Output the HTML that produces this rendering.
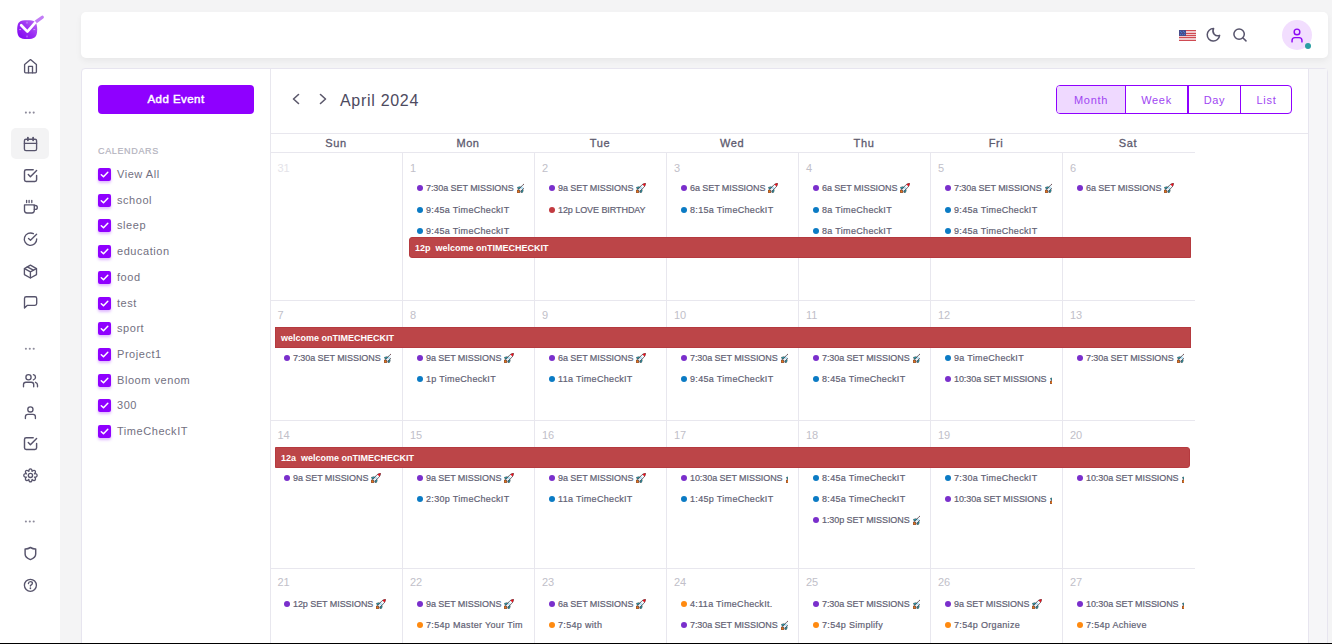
<!DOCTYPE html><html><head><meta charset="utf-8"><style>
*{box-sizing:border-box;margin:0;padding:0}
html,body{width:1332px;height:644px;overflow:hidden;background:#f4f4f5;font-family:"Liberation Sans",sans-serif}
.a{position:absolute}
.ev{position:absolute;height:14px;overflow:hidden;white-space:nowrap;font-size:9px;color:#625f74;-webkit-text-stroke:.2px #625f74;line-height:14px}
.ev i{position:absolute;left:0;top:4px;width:6px;height:6px;border-radius:50%}
.ev span{position:absolute;left:9px;top:0}
.num{position:absolute;font-size:11px;color:#bcbbc5;line-height:11px}
.bar{position:absolute;height:21px;background:#bc4548;border:1px solid #b53a3f;color:#fff;font-weight:bold;font-size:9px;line-height:21px;white-space:nowrap;overflow:hidden}
.vl{position:absolute;width:1px;background:#e8e7ee}
.hl{position:absolute;height:1px;background:#e8e7ee}
.cb{position:absolute;left:98px;width:13px;height:13px;border-radius:2px;background:#8f00ff;box-shadow:0 2px 3px rgba(143,0,255,.28)}
.cbl{position:absolute;left:117px;font-size:11px;letter-spacing:.55px;color:#72707f;line-height:13px}
.day{position:absolute;top:137px;font-size:11px;font-weight:normal;-webkit-text-stroke:.3px #5d5a6e;letter-spacing:.6px;color:#5d5a6e;text-align:center;width:132px;line-height:13px}
</style></head><body><svg width="0" height="0" style="position:absolute"><defs><symbol id="rk" viewBox="0 0 10 10"><path d="M0.3 7 L2.4 7.2 L2.8 9.7 L0.2 9.8 Z" fill="#f07a12" stroke="#5a1d0c" stroke-width=".6" stroke-linejoin="round"/><path d="M0.5 4.4 L3.3 3.7 L3.9 5 L1.3 6 Z" fill="#1cb8cc" stroke="#1b2b33" stroke-width=".6" stroke-linejoin="round"/><path d="M4 9.4 L4.9 6.3 L6.2 6.8 L5.6 9.3 Z" fill="#1cb8cc" stroke="#1b2b33" stroke-width=".6" stroke-linejoin="round"/><path d="M1.8 6.6 L6 1.7 Q7.8 0.4 9.6 0.3 Q9.5 2.1 8.3 3.9 L3.6 8.4 Z" fill="#f2f6fa" stroke="#23232b" stroke-width=".65" stroke-linejoin="round"/><path d="M6.5 1.5 Q8 0.4 9.6 0.3 Q9.5 2 8.5 3.4 Z" fill="#e3141e"/><circle cx="5" cy="4.9" r="1" fill="#9fd8f5"/></symbol></defs></svg>
<div class="a" style="left:0;top:0;width:60px;height:644px;background:#fff"></div>
<div style="position:absolute;left:11px;top:128px;width:38px;height:31px;background:#f3f3f4;border-radius:5px"></div>
<svg style="position:absolute;left:0;top:0" width="60" height="644" viewBox="0 0 60 644" fill="none" stroke="#57546c" stroke-width="1.35" stroke-linecap="round" stroke-linejoin="round">
<defs><linearGradient id="lg" x1="0" y1="1" x2="1" y2="0"><stop offset="0" stop-color="#7d00f2"/><stop offset=".5" stop-color="#9a2cf3"/><stop offset="1" stop-color="#bb6cf4"/></linearGradient></defs>
<path d="M27.2 20.2 C34.5 20.2 37.2 21.5 37.2 29.6 C37.2 37.5 34.5 39.1 27.2 39.1 C19.9 39.1 17.2 37.5 17.2 29.6 C17.2 21.5 19.9 20.2 27.2 20.2 Z" fill="url(#lg)" stroke="none"/>
<path d="M36.2 21.6 L42.3 17.2" stroke="#c27cf6" stroke-width="3.2"/>
<path d="M27 22.2 V23.2 M34.8 29.6 H33.8 M27 37 V36 M19.6 29.6 H20.6" stroke="#d9b3fa" stroke-width=".8"/>
<path d="M21.2 25.2 L27.4 31.6 L35 22.8" stroke="#fff" stroke-width="2.7"/>
<path d="M24.6 64.6 L30.5 59.6 L36.4 64.6 V71.8 Q36.4 72.8 35.4 72.8 H25.6 Q24.6 72.8 24.6 71.8 Z"/><path d="M28.5 72.8 V66.4 H32.5 V72.8"/>
<circle cx="25.9" cy="112.6" r="1.05" fill="#8d8b9b" stroke="none"/><circle cx="29.8" cy="112.6" r="1.05" fill="#8d8b9b" stroke="none"/><circle cx="33.7" cy="112.6" r="1.05" fill="#8d8b9b" stroke="none"/>
<circle cx="25.9" cy="348.7" r="1.05" fill="#8d8b9b" stroke="none"/><circle cx="29.8" cy="348.7" r="1.05" fill="#8d8b9b" stroke="none"/><circle cx="33.7" cy="348.7" r="1.05" fill="#8d8b9b" stroke="none"/>
<circle cx="25.9" cy="521.5" r="1.05" fill="#8d8b9b" stroke="none"/><circle cx="29.8" cy="521.5" r="1.05" fill="#8d8b9b" stroke="none"/><circle cx="33.7" cy="521.5" r="1.05" fill="#8d8b9b" stroke="none"/>
<rect x="24.4" y="139.2" width="12.2" height="11.4" rx="1.6"/><path d="M24.4 143.3 H36.6"/><path d="M27.9 137.6 V140.3 M33.1 137.6 V140.3" stroke-width="1.8"/>
<path d="M33.2 169.7 H26.2 Q24.5 169.7 24.5 171.4 V179.7 Q24.5 181.4 26.2 181.4 H34.9 Q36.6 181.4 36.6 179.7 V175.5" stroke-width="1.45"/><path d="M28.3 174.5 L30.4 176.7 L36.6 170.4" stroke-width="1.45"/>
<path d="M33.2 437.7 H26.2 Q24.5 437.7 24.5 439.4 V447.7 Q24.5 449.4 26.2 449.4 H34.9 Q36.6 449.4 36.6 447.7 V443.5" stroke-width="1.45"/><path d="M28.3 442.5 L30.4 444.7 L36.6 438.4" stroke-width="1.45"/>
<path d="M26.6 200.3 V202.6 M29.1 200.3 V202.6 M31.8 200.3 V202.6" stroke-width="1.3"/>
<path d="M24.5 204.9 H34.3 V210.6 Q34.3 213 31.9 213 H26.9 Q24.5 213 24.5 210.6 Z"/><path d="M34.3 205.5 H35.4 Q37.3 205.5 37.3 207.4 Q37.3 209.3 35.4 209.3 H34.3"/>
<path d="M36.7 239 A6.2 6.2 0 1 1 33.4 233.7"/><path d="M28.5 238.4 L30.5 240.3 L36.6 234.3"/>
<path d="M30.4 265.2 L36.5 268.6 V274.6 L30.4 278 L24.4 274.6 V268.6 Z"/><path d="M24.6 268.7 L30.4 271.8 L36.3 268.7 M30.4 271.8 V277.8"/><path d="M27.3 266.8 L33.4 270.1"/>
<path d="M24.5 308 V298.4 Q24.5 296.7 26.2 296.7 H35 Q36.7 296.7 36.7 298.4 V303.6 Q36.7 305.3 35 305.3 H27.4 Z"/>
<circle cx="28.5" cy="377.3" r="2.6"/><path d="M23.5 386.7 V384.6 Q23.5 382.2 25.9 382.2 H31.3 Q33.7 382.2 33.7 384.6 V386.7"/><path d="M33.4 374.7 A2.6 2.6 0 0 1 33.4 379.8"/><path d="M35.5 382.3 Q37.5 383 37.5 385 V386.7"/>
<circle cx="30.4" cy="409.4" r="2.6"/><path d="M25.4 418.5 V416.7 Q25.4 414.3 27.8 414.3 H33 Q35.4 414.3 35.4 416.7 V418.5"/>
<path d="M28.80 471.43 C28.92 468.09 31.98 468.09 32.10 471.43 C34.70 468.52 36.87 471.94 34.42 473.75 C38.00 472.98 38.00 477.82 34.42 477.05 C36.87 478.86 34.70 482.28 32.10 479.37 C31.98 482.71 28.92 482.71 28.80 479.37 C26.20 482.28 24.03 478.86 26.48 477.05 C22.90 477.82 22.90 472.98 26.48 473.75 C24.03 471.94 26.20 468.52 28.80 471.43 Z" stroke-width="1.3"/><circle cx="30.45" cy="475.4" r="2.1"/>
<path d="M30.4 547.5 Q27.5 549.2 25.1 549 V554 Q25.1 557.7 30.4 559.6 Q35.7 557.7 35.7 554 V549 Q33.3 549.2 30.4 547.5 Z" stroke-width="1.45"/>
<circle cx="30.4" cy="585.3" r="6"/><path d="M28.4 583.6 Q28.6 581.6 30.5 581.6 Q32.4 581.6 32.4 583.3 Q32.4 584.5 30.4 585.6 V586" stroke-width="1.35"/><path d="M30.4 588.2 V588.3" stroke-width="1.7"/>
</svg>
<div class="a" style="left:81px;top:12px;width:1247px;height:46px;background:#fff;border-radius:5px;box-shadow:0 3px 6px rgba(0,0,0,.05)"></div>
<svg style="position:absolute;left:1179px;top:30px" width="17" height="11" viewBox="0 0 17 11" shape-rendering="crispEdges"><rect width="17" height="11" fill="#efc9cc"/><rect x="0" y="0" width="17" height="1" fill="#cf4a52"/><rect x="0" y="3" width="17" height="1" fill="#cf4a52"/><rect x="0" y="5" width="17" height="1" fill="#cf4a52"/><rect x="0" y="7" width="17" height="1" fill="#cf4a52"/><rect x="0" y="10" width="17" height="1" fill="#cf4a52"/><rect x="0" y="0" width="7" height="6" fill="#4a4d8c"/><rect x="1" y="1" width="1" height="1" fill="#3d7ad0"/><rect x="4" y="1" width="1" height="1" fill="#3d7ad0"/><rect x="2" y="2" width="1" height="1" fill="#3d7ad0"/><rect x="5" y="2" width="1" height="1" fill="#3d7ad0"/><rect x="1" y="4" width="1" height="1" fill="#3d7ad0"/><rect x="3" y="4" width="1" height="1" fill="#3d7ad0"/><rect x="5" y="4" width="1" height="1" fill="#3d7ad0"/></svg>
<svg style="position:absolute;left:1200px;top:20px" width="60" height="30" viewBox="1200 20 60 30" fill="none" stroke="#57546c" stroke-width="1.5" stroke-linecap="round" stroke-linejoin="round"><path d="M1213.6 28.6 A4.8 4.8 0 0 0 1219.6 35.4 A6.2 6.2 0 1 1 1213.6 28.6 Z"/><circle cx="1239.1" cy="34.1" r="5.2"/><path d="M1243 38 L1246 40.9"/></svg>
<div style="position:absolute;left:1282px;top:20px;width:30px;height:30px;border-radius:50%;background:#f2defe"></div>
<svg style="position:absolute;left:1288px;top:27px" width="18" height="17" viewBox="0 0 24 24" fill="none" stroke="#8c07f4" stroke-width="2" stroke-linecap="round"><circle cx="12" cy="7" r="4"/><path d="M5 21 V19 A4 4 0 0 1 9 15 H15 A4 4 0 0 1 19 19 V21"/></svg>
<div style="position:absolute;left:1305px;top:43px;width:6.2px;height:6.2px;border-radius:50%;background:#2a9fa3"></div>
<div class="a" style="left:81px;top:68px;width:1247px;height:600px;background:#fff;border:1px solid #e7e5ef;border-radius:4px"></div>
<div class="a" style="left:1308px;top:69px;width:19px;height:600px;background:#f6f6f8;border-left:1px solid #e7e5ef"></div>
<div class="vl" style="left:270px;top:69px;height:600px"></div>
<div class="a" style="left:98px;top:85px;width:156px;height:29px;background:#8f00ff;border-radius:4px;color:#fff;font-weight:normal;-webkit-text-stroke:.45px #fff;letter-spacing:.45px;font-size:11.5px;text-align:center;line-height:28px">Add Event</div>
<div class="a" style="left:98px;top:146px;font-size:9px;color:#b4b3be;-webkit-text-stroke:.2px #b4b3be;letter-spacing:.65px;line-height:10px">CALENDARS</div>
<div class="cb" style="top:168.0px"><svg width="13" height="13" viewBox="0 0 13 13" style="position:absolute;left:0;top:0"><path d="M3.3 6.8 L5.5 8.8 L9.8 4.3" fill="none" stroke="#fff" stroke-width="1.5" stroke-linecap="round" stroke-linejoin="round"/></svg></div>
<div class="cbl" style="top:168.0px">View All</div>
<div class="cb" style="top:193.7px"><svg width="13" height="13" viewBox="0 0 13 13" style="position:absolute;left:0;top:0"><path d="M3.3 6.8 L5.5 8.8 L9.8 4.3" fill="none" stroke="#fff" stroke-width="1.5" stroke-linecap="round" stroke-linejoin="round"/></svg></div>
<div class="cbl" style="top:193.7px">school</div>
<div class="cb" style="top:219.4px"><svg width="13" height="13" viewBox="0 0 13 13" style="position:absolute;left:0;top:0"><path d="M3.3 6.8 L5.5 8.8 L9.8 4.3" fill="none" stroke="#fff" stroke-width="1.5" stroke-linecap="round" stroke-linejoin="round"/></svg></div>
<div class="cbl" style="top:219.4px">sleep</div>
<div class="cb" style="top:245.1px"><svg width="13" height="13" viewBox="0 0 13 13" style="position:absolute;left:0;top:0"><path d="M3.3 6.8 L5.5 8.8 L9.8 4.3" fill="none" stroke="#fff" stroke-width="1.5" stroke-linecap="round" stroke-linejoin="round"/></svg></div>
<div class="cbl" style="top:245.1px">education</div>
<div class="cb" style="top:270.8px"><svg width="13" height="13" viewBox="0 0 13 13" style="position:absolute;left:0;top:0"><path d="M3.3 6.8 L5.5 8.8 L9.8 4.3" fill="none" stroke="#fff" stroke-width="1.5" stroke-linecap="round" stroke-linejoin="round"/></svg></div>
<div class="cbl" style="top:270.8px">food</div>
<div class="cb" style="top:296.5px"><svg width="13" height="13" viewBox="0 0 13 13" style="position:absolute;left:0;top:0"><path d="M3.3 6.8 L5.5 8.8 L9.8 4.3" fill="none" stroke="#fff" stroke-width="1.5" stroke-linecap="round" stroke-linejoin="round"/></svg></div>
<div class="cbl" style="top:296.5px">test</div>
<div class="cb" style="top:322.2px"><svg width="13" height="13" viewBox="0 0 13 13" style="position:absolute;left:0;top:0"><path d="M3.3 6.8 L5.5 8.8 L9.8 4.3" fill="none" stroke="#fff" stroke-width="1.5" stroke-linecap="round" stroke-linejoin="round"/></svg></div>
<div class="cbl" style="top:322.2px">sport</div>
<div class="cb" style="top:347.9px"><svg width="13" height="13" viewBox="0 0 13 13" style="position:absolute;left:0;top:0"><path d="M3.3 6.8 L5.5 8.8 L9.8 4.3" fill="none" stroke="#fff" stroke-width="1.5" stroke-linecap="round" stroke-linejoin="round"/></svg></div>
<div class="cbl" style="top:347.9px">Project1</div>
<div class="cb" style="top:373.6px"><svg width="13" height="13" viewBox="0 0 13 13" style="position:absolute;left:0;top:0"><path d="M3.3 6.8 L5.5 8.8 L9.8 4.3" fill="none" stroke="#fff" stroke-width="1.5" stroke-linecap="round" stroke-linejoin="round"/></svg></div>
<div class="cbl" style="top:373.6px">Bloom venom</div>
<div class="cb" style="top:399.3px"><svg width="13" height="13" viewBox="0 0 13 13" style="position:absolute;left:0;top:0"><path d="M3.3 6.8 L5.5 8.8 L9.8 4.3" fill="none" stroke="#fff" stroke-width="1.5" stroke-linecap="round" stroke-linejoin="round"/></svg></div>
<div class="cbl" style="top:399.3px">300</div>
<div class="cb" style="top:425.0px"><svg width="13" height="13" viewBox="0 0 13 13" style="position:absolute;left:0;top:0"><path d="M3.3 6.8 L5.5 8.8 L9.8 4.3" fill="none" stroke="#fff" stroke-width="1.5" stroke-linecap="round" stroke-linejoin="round"/></svg></div>
<div class="cbl" style="top:425.0px">TimeCheckIT</div>
<svg class="a" style="left:291px;top:93px" width="10" height="12" viewBox="0 0 10 12" fill="none" stroke="#5b586b" stroke-width="1.6" stroke-linecap="round" stroke-linejoin="round"><path d="M7.5 1.5 L2.5 6 L7.5 10.5"/></svg>
<svg class="a" style="left:318px;top:93px" width="10" height="12" viewBox="0 0 10 12" fill="none" stroke="#5b586b" stroke-width="1.6" stroke-linecap="round" stroke-linejoin="round"><path d="M2.5 1.5 L7.5 6 L2.5 10.5"/></svg>
<div class="a" style="left:340px;top:91.5px;font-size:16px;letter-spacing:.7px;color:#4d4a60;line-height:18px">April 2024</div>
<div class="a" style="left:1056px;top:85px;width:236px;height:29px;border:1px solid #8f00ff;border-radius:4px;overflow:hidden;font-size:11px;letter-spacing:.7px;color:#a046f2"><div class="a" style="left:0;top:0;width:68px;height:27px;background:#efd9ff;text-align:center;line-height:28.5px">Month</div><div class="a" style="left:68px;top:0;width:1px;height:27px;background:#8f00ff"></div><div class="a" style="left:69px;top:0;width:61px;height:27px;text-align:center;line-height:28.5px">Week</div><div class="a" style="left:130px;top:0;width:2px;height:27px;background:#8f00ff"></div><div class="a" style="left:132px;top:0;width:51px;height:27px;text-align:center;line-height:28.5px">Day</div><div class="a" style="left:183px;top:0;width:1px;height:27px;background:#8f00ff"></div><div class="a" style="left:184px;top:0;width:51px;height:27px;text-align:center;line-height:28.5px">List</div></div>
<div class="hl" style="left:270px;top:133px;width:1038px"></div>
<div class="hl" style="left:270px;top:152px;width:925px"></div>
<div class="day" style="left:270px">Sun</div>
<div class="day" style="left:402px">Mon</div>
<div class="day" style="left:534px">Tue</div>
<div class="day" style="left:666px">Wed</div>
<div class="day" style="left:798px">Thu</div>
<div class="day" style="left:930px">Fri</div>
<div class="day" style="left:1062px">Sat</div>
<div class="hl" style="left:270px;top:300px;width:925px"></div>
<div class="hl" style="left:270px;top:420px;width:925px"></div>
<div class="hl" style="left:270px;top:568px;width:925px"></div>
<div class="vl" style="left:402px;top:152px;height:500px"></div>
<div class="vl" style="left:534px;top:152px;height:500px"></div>
<div class="vl" style="left:666px;top:152px;height:500px"></div>
<div class="vl" style="left:798px;top:152px;height:500px"></div>
<div class="vl" style="left:930px;top:152px;height:500px"></div>
<div class="vl" style="left:1062px;top:152px;height:500px"></div>
<div class="num" style="left:277.5px;top:162.8px;color:#e4e3e9">31</div>
<div class="num" style="left:410.0px;top:162.8px;color:#c1c0c9">1</div>
<div class="ev" style="left:417px;top:181.0px;width:107px"><i style="background:#7a2fcc"></i><span style="letter-spacing:-.07px">7:30a SET MISSIONS<svg width="10" height="10" style="vertical-align:-2px;margin-left:3px"><use href="#rk"/></svg></span></div>
<div class="ev" style="left:417px;top:202.8px;width:107px"><i style="background:#0b7bc4"></i><span style="letter-spacing:.32px">9:45a TimeCheckIT</span></div>
<div class="ev" style="left:417px;top:224.2px;width:107px"><i style="background:#0b7bc4"></i><span style="letter-spacing:.32px">9:45a TimeCheckIT</span></div>
<div class="num" style="left:542.0px;top:162.8px;color:#c1c0c9">2</div>
<div class="ev" style="left:549px;top:181.0px;width:107px"><i style="background:#7a2fcc"></i><span style="letter-spacing:-.07px">9a SET MISSIONS<svg width="10" height="10" style="vertical-align:-2px;margin-left:3px"><use href="#rk"/></svg></span></div>
<div class="ev" style="left:549px;top:202.8px;width:107px"><i style="background:#c23a40"></i><span style="letter-spacing:-.07px">12p LOVE BIRTHDAY</span></div>
<div class="num" style="left:674.0px;top:162.8px;color:#c1c0c9">3</div>
<div class="ev" style="left:681px;top:181.0px;width:107px"><i style="background:#7a2fcc"></i><span style="letter-spacing:-.07px">6a SET MISSIONS<svg width="10" height="10" style="vertical-align:-2px;margin-left:3px"><use href="#rk"/></svg></span></div>
<div class="ev" style="left:681px;top:202.8px;width:107px"><i style="background:#0b7bc4"></i><span style="letter-spacing:.32px">8:15a TimeCheckIT</span></div>
<div class="num" style="left:806.0px;top:162.8px;color:#c1c0c9">4</div>
<div class="ev" style="left:813px;top:181.0px;width:107px"><i style="background:#7a2fcc"></i><span style="letter-spacing:-.07px">6a SET MISSIONS<svg width="10" height="10" style="vertical-align:-2px;margin-left:3px"><use href="#rk"/></svg></span></div>
<div class="ev" style="left:813px;top:202.8px;width:107px"><i style="background:#0b7bc4"></i><span style="letter-spacing:.32px">8a TimeCheckIT</span></div>
<div class="ev" style="left:813px;top:224.2px;width:107px"><i style="background:#0b7bc4"></i><span style="letter-spacing:.32px">8a TimeCheckIT</span></div>
<div class="num" style="left:938.0px;top:162.8px;color:#c1c0c9">5</div>
<div class="ev" style="left:945px;top:181.0px;width:107px"><i style="background:#7a2fcc"></i><span style="letter-spacing:-.07px">7:30a SET MISSIONS<svg width="10" height="10" style="vertical-align:-2px;margin-left:3px"><use href="#rk"/></svg></span></div>
<div class="ev" style="left:945px;top:202.8px;width:107px"><i style="background:#0b7bc4"></i><span style="letter-spacing:.32px">9:45a TimeCheckIT</span></div>
<div class="ev" style="left:945px;top:224.2px;width:107px"><i style="background:#0b7bc4"></i><span style="letter-spacing:.32px">9:45a TimeCheckIT</span></div>
<div class="num" style="left:1070.0px;top:162.8px;color:#c1c0c9">6</div>
<div class="ev" style="left:1077px;top:181.0px;width:107px"><i style="background:#7a2fcc"></i><span style="letter-spacing:-.07px">6a SET MISSIONS<svg width="10" height="10" style="vertical-align:-2px;margin-left:3px"><use href="#rk"/></svg></span></div>
<div class="num" style="left:277.5px;top:310.2px;color:#c1c0c9">7</div>
<div class="ev" style="left:284px;top:351.0px;width:107px"><i style="background:#7a2fcc"></i><span style="letter-spacing:-.07px">7:30a SET MISSIONS<svg width="10" height="10" style="vertical-align:-2px;margin-left:3px"><use href="#rk"/></svg></span></div>
<div class="num" style="left:410.0px;top:310.2px;color:#c1c0c9">8</div>
<div class="ev" style="left:417px;top:351.0px;width:107px"><i style="background:#7a2fcc"></i><span style="letter-spacing:-.07px">9a SET MISSIONS<svg width="10" height="10" style="vertical-align:-2px;margin-left:3px"><use href="#rk"/></svg></span></div>
<div class="ev" style="left:417px;top:372.0px;width:107px"><i style="background:#0b7bc4"></i><span style="letter-spacing:.32px">1p TimeCheckIT</span></div>
<div class="num" style="left:542.0px;top:310.2px;color:#c1c0c9">9</div>
<div class="ev" style="left:549px;top:351.0px;width:107px"><i style="background:#7a2fcc"></i><span style="letter-spacing:-.07px">6a SET MISSIONS<svg width="10" height="10" style="vertical-align:-2px;margin-left:3px"><use href="#rk"/></svg></span></div>
<div class="ev" style="left:549px;top:372.0px;width:107px"><i style="background:#0b7bc4"></i><span style="letter-spacing:.32px">11a TimeCheckIT</span></div>
<div class="num" style="left:674.0px;top:310.2px;color:#c1c0c9">10</div>
<div class="ev" style="left:681px;top:351.0px;width:107px"><i style="background:#7a2fcc"></i><span style="letter-spacing:-.07px">7:30a SET MISSIONS<svg width="10" height="10" style="vertical-align:-2px;margin-left:3px"><use href="#rk"/></svg></span></div>
<div class="ev" style="left:681px;top:372.0px;width:107px"><i style="background:#0b7bc4"></i><span style="letter-spacing:.32px">9:45a TimeCheckIT</span></div>
<div class="num" style="left:806.0px;top:310.2px;color:#c1c0c9">11</div>
<div class="ev" style="left:813px;top:351.0px;width:107px"><i style="background:#7a2fcc"></i><span style="letter-spacing:-.07px">7:30a SET MISSIONS<svg width="10" height="10" style="vertical-align:-2px;margin-left:3px"><use href="#rk"/></svg></span></div>
<div class="ev" style="left:813px;top:372.0px;width:107px"><i style="background:#0b7bc4"></i><span style="letter-spacing:.32px">8:45a TimeCheckIT</span></div>
<div class="num" style="left:938.0px;top:310.2px;color:#c1c0c9">12</div>
<div class="ev" style="left:945px;top:351.0px;width:107px"><i style="background:#0b7bc4"></i><span style="letter-spacing:.32px">9a TimeCheckIT</span></div>
<div class="ev" style="left:945px;top:372.0px;width:107px"><i style="background:#7a2fcc"></i><span style="letter-spacing:-.07px">10:30a SET MISSIONS<svg width="10" height="10" style="vertical-align:-2px;margin-left:3px"><use href="#rk"/></svg></span></div>
<div class="num" style="left:1070.0px;top:310.2px;color:#c1c0c9">13</div>
<div class="ev" style="left:1077px;top:351.0px;width:107px"><i style="background:#7a2fcc"></i><span style="letter-spacing:-.07px">7:30a SET MISSIONS<svg width="10" height="10" style="vertical-align:-2px;margin-left:3px"><use href="#rk"/></svg></span></div>
<div class="num" style="left:277.5px;top:430.0px;color:#c1c0c9">14</div>
<div class="ev" style="left:284px;top:471.0px;width:107px"><i style="background:#7a2fcc"></i><span style="letter-spacing:-.07px">9a SET MISSIONS<svg width="10" height="10" style="vertical-align:-2px;margin-left:3px"><use href="#rk"/></svg></span></div>
<div class="num" style="left:410.0px;top:430.0px;color:#c1c0c9">15</div>
<div class="ev" style="left:417px;top:471.0px;width:107px"><i style="background:#7a2fcc"></i><span style="letter-spacing:-.07px">9a SET MISSIONS<svg width="10" height="10" style="vertical-align:-2px;margin-left:3px"><use href="#rk"/></svg></span></div>
<div class="ev" style="left:417px;top:492.0px;width:107px"><i style="background:#0b7bc4"></i><span style="letter-spacing:.32px">2:30p TimeCheckIT</span></div>
<div class="num" style="left:542.0px;top:430.0px;color:#c1c0c9">16</div>
<div class="ev" style="left:549px;top:471.0px;width:107px"><i style="background:#7a2fcc"></i><span style="letter-spacing:-.07px">9a SET MISSIONS<svg width="10" height="10" style="vertical-align:-2px;margin-left:3px"><use href="#rk"/></svg></span></div>
<div class="ev" style="left:549px;top:492.0px;width:107px"><i style="background:#0b7bc4"></i><span style="letter-spacing:.32px">11a TimeCheckIT</span></div>
<div class="num" style="left:674.0px;top:430.0px;color:#c1c0c9">17</div>
<div class="ev" style="left:681px;top:471.0px;width:107px"><i style="background:#7a2fcc"></i><span style="letter-spacing:-.07px">10:30a SET MISSIONS<svg width="10" height="10" style="vertical-align:-2px;margin-left:3px"><use href="#rk"/></svg></span></div>
<div class="ev" style="left:681px;top:492.0px;width:107px"><i style="background:#0b7bc4"></i><span style="letter-spacing:.32px">1:45p TimeCheckIT</span></div>
<div class="num" style="left:806.0px;top:430.0px;color:#c1c0c9">18</div>
<div class="ev" style="left:813px;top:471.0px;width:107px"><i style="background:#0b7bc4"></i><span style="letter-spacing:.32px">8:45a TimeCheckIT</span></div>
<div class="ev" style="left:813px;top:492.0px;width:107px"><i style="background:#0b7bc4"></i><span style="letter-spacing:.32px">8:45a TimeCheckIT</span></div>
<div class="ev" style="left:813px;top:513.0px;width:107px"><i style="background:#7a2fcc"></i><span style="letter-spacing:-.07px">1:30p SET MISSIONS<svg width="10" height="10" style="vertical-align:-2px;margin-left:3px"><use href="#rk"/></svg></span></div>
<div class="num" style="left:938.0px;top:430.0px;color:#c1c0c9">19</div>
<div class="ev" style="left:945px;top:471.0px;width:107px"><i style="background:#0b7bc4"></i><span style="letter-spacing:.32px">7:30a TimeCheckIT</span></div>
<div class="ev" style="left:945px;top:492.0px;width:107px"><i style="background:#7a2fcc"></i><span style="letter-spacing:-.07px">10:30a SET MISSIONS<svg width="10" height="10" style="vertical-align:-2px;margin-left:3px"><use href="#rk"/></svg></span></div>
<div class="num" style="left:1070.0px;top:430.0px;color:#c1c0c9">20</div>
<div class="ev" style="left:1077px;top:471.0px;width:107px"><i style="background:#7a2fcc"></i><span style="letter-spacing:-.07px">10:30a SET MISSIONS<svg width="10" height="10" style="vertical-align:-2px;margin-left:3px"><use href="#rk"/></svg></span></div>
<div class="num" style="left:277.5px;top:577.3px;color:#c1c0c9">21</div>
<div class="ev" style="left:284px;top:597.0px;width:107px"><i style="background:#7a2fcc"></i><span style="letter-spacing:-.07px">12p SET MISSIONS<svg width="10" height="10" style="vertical-align:-2px;margin-left:3px"><use href="#rk"/></svg></span></div>
<div class="num" style="left:410.0px;top:577.3px;color:#c1c0c9">22</div>
<div class="ev" style="left:417px;top:597.0px;width:107px"><i style="background:#7a2fcc"></i><span style="letter-spacing:-.07px">9a SET MISSIONS<svg width="10" height="10" style="vertical-align:-2px;margin-left:3px"><use href="#rk"/></svg></span></div>
<div class="ev" style="left:417px;top:618.0px;width:107px"><i style="background:#ff8a10"></i><span style="letter-spacing:.32px">7:54p Master Your Tim</span></div>
<div class="num" style="left:542.0px;top:577.3px;color:#c1c0c9">23</div>
<div class="ev" style="left:549px;top:597.0px;width:107px"><i style="background:#7a2fcc"></i><span style="letter-spacing:-.07px">6a SET MISSIONS<svg width="10" height="10" style="vertical-align:-2px;margin-left:3px"><use href="#rk"/></svg></span></div>
<div class="ev" style="left:549px;top:618.0px;width:107px"><i style="background:#ff8a10"></i><span style="letter-spacing:.32px">7:54p with</span></div>
<div class="num" style="left:674.0px;top:577.3px;color:#c1c0c9">24</div>
<div class="ev" style="left:681px;top:597.0px;width:107px"><i style="background:#ff8a10"></i><span style="letter-spacing:.32px">4:11a TimeCheckIt.</span></div>
<div class="ev" style="left:681px;top:618.0px;width:107px"><i style="background:#7a2fcc"></i><span style="letter-spacing:-.07px">7:30a SET MISSIONS<svg width="10" height="10" style="vertical-align:-2px;margin-left:3px"><use href="#rk"/></svg></span></div>
<div class="num" style="left:806.0px;top:577.3px;color:#c1c0c9">25</div>
<div class="ev" style="left:813px;top:597.0px;width:107px"><i style="background:#7a2fcc"></i><span style="letter-spacing:-.07px">7:30a SET MISSIONS<svg width="10" height="10" style="vertical-align:-2px;margin-left:3px"><use href="#rk"/></svg></span></div>
<div class="ev" style="left:813px;top:618.0px;width:107px"><i style="background:#ff8a10"></i><span style="letter-spacing:.32px">7:54p Simplify</span></div>
<div class="num" style="left:938.0px;top:577.3px;color:#c1c0c9">26</div>
<div class="ev" style="left:945px;top:597.0px;width:107px"><i style="background:#7a2fcc"></i><span style="letter-spacing:-.07px">9a SET MISSIONS<svg width="10" height="10" style="vertical-align:-2px;margin-left:3px"><use href="#rk"/></svg></span></div>
<div class="ev" style="left:945px;top:618.0px;width:107px"><i style="background:#ff8a10"></i><span style="letter-spacing:.32px">7:54p Organize</span></div>
<div class="num" style="left:1070.0px;top:577.3px;color:#c1c0c9">27</div>
<div class="ev" style="left:1077px;top:597.0px;width:107px"><i style="background:#7a2fcc"></i><span style="letter-spacing:-.07px">10:30a SET MISSIONS<svg width="10" height="10" style="vertical-align:-2px;margin-left:3px"><use href="#rk"/></svg></span></div>
<div class="ev" style="left:1077px;top:618.0px;width:107px"><i style="background:#ff8a10"></i><span style="letter-spacing:.32px">7:54p Achieve</span></div>
<div class="bar" style="left:409px;top:237px;width:782px;border-radius:3px 0 0 3px;padding-left:5px">12p&nbsp; welcome onTIMECHECKIT</div>
<div class="bar" style="left:275px;top:327px;width:916px;border-radius:0 0 0 0;padding-left:5px">welcome onTIMECHECKIT</div>
<div class="bar" style="left:275px;top:447px;width:915px;border-radius:0 3px 3px 0;padding-left:5px">12a&nbsp; welcome onTIMECHECKIT</div>
<div class="a" style="left:0;top:643px;width:1332px;height:1px;background:#000"></div></body></html>
